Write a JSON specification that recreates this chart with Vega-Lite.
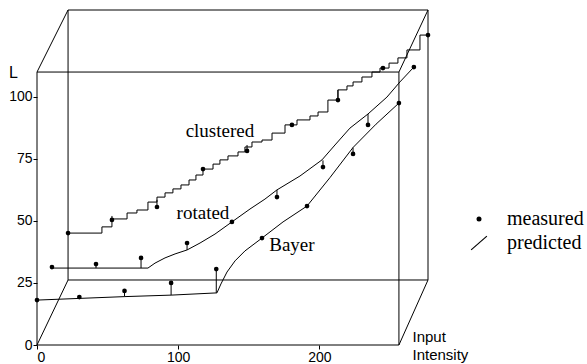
{
  "$schema": "https://vega.github.io/schema/vega-lite/v6.json",
  "width": 391,
  "height": 335,
  "autosize": "none",
  "padding": {"left": 37, "top": 10, "right": 159, "bottom": 19},
  "background": "white",
  "config": {
    "view": {"stroke": null},
    "axis": {"grid": false, "domain": false, "tickColor": "black", "tickSize": 4, "tickWidth": 1, "labelColor": "black", "labelFont": "Liberation Sans", "labelFontSize": 14, "titleColor": "black", "titleFont": "Liberation Sans", "titleFontWeight": "normal"}
  },
  "datasets": {
    "edges": [
      {"x": 0, "y": 0, "x2": 0, "y2": 110},
      {"x": 0, "y": 0, "x2": 256.4, "y2": 0},
      {"x": 256.4, "y": 0, "x2": 256.4, "y2": 110},
      {"x": 0, "y": 110, "x2": 256.4, "y2": 110},
      {"x": 22, "y": 26.2, "x2": 22, "y2": 135},
      {"x": 22, "y": 26.2, "x2": 277, "y2": 26.2},
      {"x": 277, "y": 26.2, "x2": 277, "y2": 135},
      {"x": 22, "y": 135, "x2": 277, "y2": 135},
      {"x": 0, "y": 0, "x2": 22, "y2": 26.2},
      {"x": 0, "y": 110, "x2": 22, "y2": 135},
      {"x": 256.4, "y": 110, "x2": 277, "y2": 135},
      {"x": 256.4, "y": 0, "x2": 277, "y2": 26.2}
    ],
    "predicted": [
      {"series": "Bayer", "x": 0, "L": 18.1},
      {"series": "Bayer", "x": 62, "L": 19.5},
      {"series": "Bayer", "x": 95, "L": 20.1},
      {"series": "Bayer", "x": 127.5, "L": 21.0},
      {"series": "Bayer", "x": 130.3, "L": 24.6},
      {"series": "Bayer", "x": 134.6, "L": 29.4},
      {"series": "Bayer", "x": 140.3, "L": 33.9},
      {"series": "Bayer", "x": 147.3, "L": 37.9},
      {"series": "Bayer", "x": 159.4, "L": 43.1},
      {"series": "Bayer", "x": 174.3, "L": 49.6},
      {"series": "Bayer", "x": 191.3, "L": 56.0},
      {"series": "Bayer", "x": 207.6, "L": 67.5},
      {"series": "Bayer", "x": 223.9, "L": 79.6},
      {"series": "Bayer", "x": 240.2, "L": 89.0},
      {"series": "Bayer", "x": 256.4, "L": 97.5},
      {"series": "rotated", "x": 10.6, "L": 31.0},
      {"series": "rotated", "x": 78.6, "L": 31.0},
      {"series": "rotated", "x": 83.6, "L": 33.0},
      {"series": "rotated", "x": 90.7, "L": 35.1},
      {"series": "rotated", "x": 97.8, "L": 36.7},
      {"series": "rotated", "x": 106.3, "L": 38.3},
      {"series": "rotated", "x": 115.5, "L": 41.1},
      {"series": "rotated", "x": 126.1, "L": 44.7},
      {"series": "rotated", "x": 138.1, "L": 49.6},
      {"series": "rotated", "x": 150.9, "L": 54.8},
      {"series": "rotated", "x": 161.5, "L": 58.8},
      {"series": "rotated", "x": 170.0, "L": 62.5},
      {"series": "rotated", "x": 186.3, "L": 68.1},
      {"series": "rotated", "x": 201.9, "L": 74.6},
      {"series": "rotated", "x": 211.1, "L": 80.6},
      {"series": "rotated", "x": 221.7, "L": 87.4},
      {"series": "rotated", "x": 234.5, "L": 93.1},
      {"series": "rotated", "x": 247.9, "L": 99.9},
      {"series": "rotated", "x": 257.1, "L": 106.0},
      {"series": "rotated", "x": 267.0, "L": 112.0},
      {"series": "clustered", "x": 22.0, "L": 45.1},
      {"series": "clustered", "x": 46.0, "L": 47.6},
      {"series": "clustered", "x": 53.1, "L": 50.8},
      {"series": "clustered", "x": 63.8, "L": 53.2},
      {"series": "clustered", "x": 70.8, "L": 54.4},
      {"series": "clustered", "x": 78.6, "L": 57.6},
      {"series": "clustered", "x": 85.0, "L": 59.6},
      {"series": "clustered", "x": 90.7, "L": 61.3},
      {"series": "clustered", "x": 96.3, "L": 62.9},
      {"series": "clustered", "x": 102.0, "L": 64.5},
      {"series": "clustered", "x": 107.7, "L": 66.5},
      {"series": "clustered", "x": 112.6, "L": 68.5},
      {"series": "clustered", "x": 117.6, "L": 70.9},
      {"series": "clustered", "x": 124.7, "L": 72.9},
      {"series": "clustered", "x": 129.6, "L": 74.6},
      {"series": "clustered", "x": 135.3, "L": 76.2},
      {"series": "clustered", "x": 142.4, "L": 77.8},
      {"series": "clustered", "x": 147.3, "L": 79.8},
      {"series": "clustered", "x": 152.3, "L": 81.8},
      {"series": "clustered", "x": 159.4, "L": 82.6},
      {"series": "clustered", "x": 166.5, "L": 85.4},
      {"series": "clustered", "x": 175.7, "L": 88.7},
      {"series": "clustered", "x": 184.2, "L": 90.7},
      {"series": "clustered", "x": 193.4, "L": 92.3},
      {"series": "clustered", "x": 199.1, "L": 93.9},
      {"series": "clustered", "x": 206.1, "L": 98.7},
      {"series": "clustered", "x": 213.2, "L": 102.8},
      {"series": "clustered", "x": 219.6, "L": 104.4},
      {"series": "clustered", "x": 223.9, "L": 106.0},
      {"series": "clustered", "x": 230.2, "L": 108.0},
      {"series": "clustered", "x": 237.3, "L": 110.0},
      {"series": "clustered", "x": 243.0, "L": 111.6},
      {"series": "clustered", "x": 249.4, "L": 113.6},
      {"series": "clustered", "x": 255.7, "L": 115.7},
      {"series": "clustered", "x": 262.1, "L": 118.9},
      {"series": "clustered", "x": 271.3, "L": 124.9},
      {"series": "clustered", "x": 277.0, "L": 124.9}
    ],
    "measured": [
      {"series": "Bayer", "x": 0, "L": 18.1, "pred": 18.1},
      {"series": "Bayer", "x": 30, "L": 19.3, "pred": 18.8},
      {"series": "Bayer", "x": 62, "L": 21.8, "pred": 19.5},
      {"series": "Bayer", "x": 95, "L": 25.0, "pred": 20.1},
      {"series": "Bayer", "x": 127, "L": 30.6, "pred": 21.0},
      {"series": "Bayer", "x": 159.4, "L": 43.1, "pred": 43.1},
      {"series": "Bayer", "x": 191.3, "L": 56.0, "pred": 56.0},
      {"series": "Bayer", "x": 223.9, "L": 77.0, "pred": 79.6},
      {"series": "Bayer", "x": 256.4, "L": 97.5, "pred": 97.5},
      {"series": "rotated", "x": 10.6, "L": 31.4, "pred": 31.0},
      {"series": "rotated", "x": 41.8, "L": 32.6, "pred": 31.0},
      {"series": "rotated", "x": 73.7, "L": 35.1, "pred": 31.0},
      {"series": "rotated", "x": 106.3, "L": 41.1, "pred": 38.3},
      {"series": "rotated", "x": 138.1, "L": 49.6, "pred": 49.6},
      {"series": "rotated", "x": 170.0, "L": 59.6, "pred": 62.5},
      {"series": "rotated", "x": 202.6, "L": 71.7, "pred": 74.4},
      {"series": "rotated", "x": 234.5, "L": 88.7, "pred": 93.1},
      {"series": "rotated", "x": 267.0, "L": 112.0, "pred": 112.0},
      {"series": "clustered", "x": 22.0, "L": 45.1, "pred": 45.1},
      {"series": "clustered", "x": 53.1, "L": 50.4, "pred": 52.0},
      {"series": "clustered", "x": 85.0, "L": 55.6, "pred": 58.5},
      {"series": "clustered", "x": 117.6, "L": 70.9, "pred": 70.9},
      {"series": "clustered", "x": 148.8, "L": 78.2, "pred": 80.6},
      {"series": "clustered", "x": 180.6, "L": 88.7, "pred": 88.7},
      {"series": "clustered", "x": 213.2, "L": 98.7, "pred": 102.8},
      {"series": "clustered", "x": 245.1, "L": 111.6, "pred": 111.6},
      {"series": "clustered", "x": 277.0, "L": 124.9, "pred": 124.9}
    ],
    "labels": [
      {"x": 129.6, "L": 86.2, "text": "clustered"},
      {"x": 117.6, "L": 53.2, "text": "rotated"},
      {"x": 180.6, "L": 40.3, "text": "Bayer"}
    ]
  },
  "layer": [
    {
      "data": {"name": "edges"},
      "mark": {"type": "rule", "color": "black", "strokeWidth": 1},
      "encoding": {
        "x": {"field": "x", "type": "quantitative", "scale": {"domain": [0, 277], "nice": false, "zero": false},
          "axis": {"orient": "bottom", "values": [0, 100, 200], "labelPadding": 1, "title": ["Input", "Intensity"], "titleFontSize": 15, "titleX": 375, "titleY": -4, "titleAlign": "left", "titleBaseline": "alphabetic", "titleLineHeight": 18, "titleAnchor": "start"}},
        "y": {"field": "y", "type": "quantitative", "scale": {"domain": [0, 135], "nice": false, "zero": false},
          "axis": {"orient": "left", "values": [0, 25, 50, 75, 100], "labelPadding": 1, "title": "L", "titleAngle": 0, "titleFontSize": 16, "titleX": -24, "titleY": 62, "titleAlign": "center", "titleBaseline": "middle"}},
        "x2": {"field": "x2"},
        "y2": {"field": "y2"}
      }
    },
    {
      "data": {"name": "predicted"},
      "transform": [{"filter": "datum.series !== 'clustered'"}],
      "mark": {"type": "line", "color": "black", "strokeWidth": 1},
      "encoding": {
        "x": {"field": "x", "type": "quantitative"},
        "y": {"field": "L", "type": "quantitative"},
        "detail": {"field": "series"}
      }
    },
    {
      "data": {"name": "predicted"},
      "transform": [{"filter": "datum.series === 'clustered'"}],
      "mark": {"type": "line", "color": "black", "strokeWidth": 1, "interpolate": "step-after"},
      "encoding": {
        "x": {"field": "x", "type": "quantitative"},
        "y": {"field": "L", "type": "quantitative"}
      }
    },
    {
      "data": {"name": "measured"},
      "mark": {"type": "rule", "color": "black", "strokeWidth": 1},
      "encoding": {
        "x": {"field": "x", "type": "quantitative"},
        "y": {"field": "L", "type": "quantitative"},
        "y2": {"field": "pred"}
      }
    },
    {
      "data": {"name": "measured"},
      "mark": {"type": "point", "filled": true, "color": "black", "size": 22, "opacity": 1},
      "encoding": {
        "x": {"field": "x", "type": "quantitative"},
        "y": {"field": "L", "type": "quantitative"},
        "shape": {"datum": "measured", "type": "nominal",
          "scale": {"domain": ["measured", "predicted"], "range": ["circle", "M-3.3,2.6L3.0,-2.9L3.3,-2.6L-3.0,2.9Z"]},
          "legend": {"title": null, "orient": "none", "legendX": 432, "legendY": 199, "padding": 0, "symbolSize": 25, "symbolFillColor": "black", "symbolOpacity": 1, "labelFont": "Liberation Serif", "labelFontSize": 20, "labelColor": "black", "labelOffset": 18, "rowPadding": 3, "labelLimit": 200,
            "encode": {"symbols": {"update": {"fill": {"value": "black"}, "opacity": {"value": 1}, "fillOpacity": {"value": 1}}}}}}
      }
    },
    {
      "data": {"name": "labels"},
      "mark": {"type": "text", "font": "Liberation Serif", "fontSize": 19, "color": "black", "align": "center", "baseline": "middle"},
      "encoding": {
        "x": {"field": "x", "type": "quantitative"},
        "y": {"field": "L", "type": "quantitative"},
        "text": {"field": "text"}
      }
    }
  ]
}
